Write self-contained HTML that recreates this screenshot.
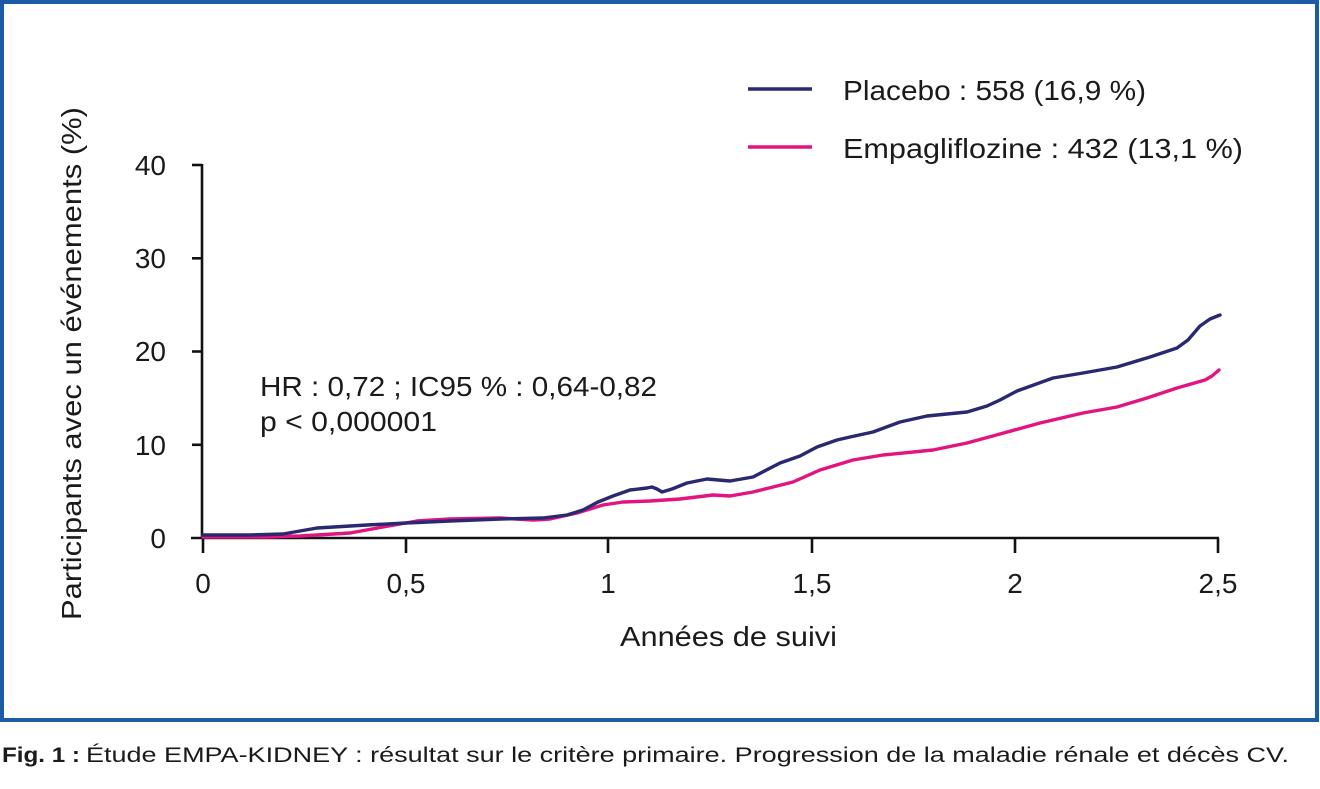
<!DOCTYPE html>
<html>
<head>
<meta charset="utf-8">
<style>
  html,body{margin:0;padding:0;background:#fff;}
  svg{display:block;}
  text{font-family:"Liberation Sans","DejaVu Sans",sans-serif;fill:#1a1a1a;}
</style>
</head>
<body>
<svg width="1320" height="789" viewBox="0 0 1320 789" xmlns="http://www.w3.org/2000/svg">
  <rect x="0" y="0" width="1320" height="789" fill="#fff"/>
  <!-- frame -->
  <rect x="2" y="2" width="1315" height="718" fill="none" stroke="#1c5ba6" stroke-width="4"/>

  <!-- axes -->
  <g stroke="#111" stroke-width="2.6" fill="none" stroke-linecap="butt">
    <line x1="202" y1="164" x2="202" y2="539"/>
    <line x1="191" y1="538" x2="1219" y2="538"/>
    <!-- y ticks -->
    <line x1="192" y1="165" x2="202" y2="165"/>
    <line x1="192" y1="258.3" x2="202" y2="258.3"/>
    <line x1="192" y1="351.5" x2="202" y2="351.5"/>
    <line x1="192" y1="444.8" x2="202" y2="444.8"/>
    <!-- x ticks -->
    <line x1="203" y1="538" x2="203" y2="553"/>
    <line x1="406" y1="538" x2="406" y2="553"/>
    <line x1="608" y1="538" x2="608" y2="553"/>
    <line x1="812" y1="538" x2="812" y2="553"/>
    <line x1="1015" y1="538" x2="1015" y2="553"/>
    <line x1="1218" y1="538" x2="1218" y2="553"/>
  </g>

  <!-- y tick labels -->
  <g font-size="28" text-anchor="end">
    <text x="166" y="175">40</text>
    <text x="166" y="268">30</text>
    <text x="166" y="361">20</text>
    <text x="166" y="455">10</text>
    <text x="166" y="548">0</text>
  </g>
  <!-- x tick labels -->
  <g font-size="28" text-anchor="middle">
    <text x="203" y="593">0</text>
    <text x="406" y="593">0,5</text>
    <text x="608" y="593">1</text>
    <text x="812" y="593">1,5</text>
    <text x="1015" y="593">2</text>
    <text x="1218" y="593">2,5</text>
  </g>

  <!-- axis titles -->
  <text x="620" y="646" font-size="28" textLength="217" lengthAdjust="spacingAndGlyphs">Années de suivi</text>
  <text transform="translate(81,620) rotate(-90)" x="0" y="0" font-size="28" textLength="513" lengthAdjust="spacingAndGlyphs">Participants avec un événements (%)</text>

  <!-- HR annotation -->
  <text x="260" y="396" font-size="28" textLength="397" lengthAdjust="spacingAndGlyphs">HR : 0,72 ; IC95 % : 0,64-0,82</text>
  <text x="260" y="431" font-size="28" textLength="177" lengthAdjust="spacingAndGlyphs">p &lt; 0,000001</text>

  <!-- legend -->
  <line x1="748" y1="89" x2="812" y2="89" stroke="#2a2870" stroke-width="3.5"/>
  <line x1="748" y1="147" x2="812" y2="147" stroke="#e3147f" stroke-width="3.5"/>
  <text x="843" y="100" font-size="28" textLength="303" lengthAdjust="spacingAndGlyphs">Placebo : 558 (16,9 %)</text>
  <text x="843" y="158" font-size="28" textLength="400" lengthAdjust="spacingAndGlyphs">Empagliflozine : 432 (13,1 %)</text>

  <!-- curves -->
  <polyline fill="none" stroke="#e3147f" stroke-width="3.4" stroke-linejoin="round" stroke-linecap="round"
    points="203,537 267,537 300,536 350,533 383,527 417,521 450,519 500,518 533,520 550,519 577,513 603,505 623,502 650,501 680,499 713,495 730,496 753,492 793,482 820,470 853,460 883,455 933,450 967,443 1000,434 1040,423 1083,413 1117,407 1147,398 1177,388 1205,380 1212,376 1219,370"/>
  <polyline fill="none" stroke="#2a2870" stroke-width="3.4" stroke-linejoin="round" stroke-linecap="round"
    points="203,535 250,535 283,534 317,528 367,525 406,523 450,521 500,519 543,518 567,515 583,510 598,502 613,496 630,490 647,488 652,487 657,489 662,492 672,489 687,483 707,479 730,481 753,477 780,463 800,456 817,447 837,440 850,437 873,432 900,422 927,416 967,412 987,406 1000,400 1017,391 1053,378 1083,373 1117,367 1150,357 1177,348 1188,340 1200,326 1210,319 1220,315"/>

  <!-- caption -->
  <text x="2" y="762" font-size="21" font-weight="bold" textLength="78" lengthAdjust="spacingAndGlyphs">Fig. 1 :</text>
  <text x="86" y="762" font-size="21" textLength="1203" lengthAdjust="spacingAndGlyphs">Étude EMPA-KIDNEY : résultat sur le critère primaire. Progression de la maladie rénale et décès CV.</text>
</svg>
</body>
</html>
